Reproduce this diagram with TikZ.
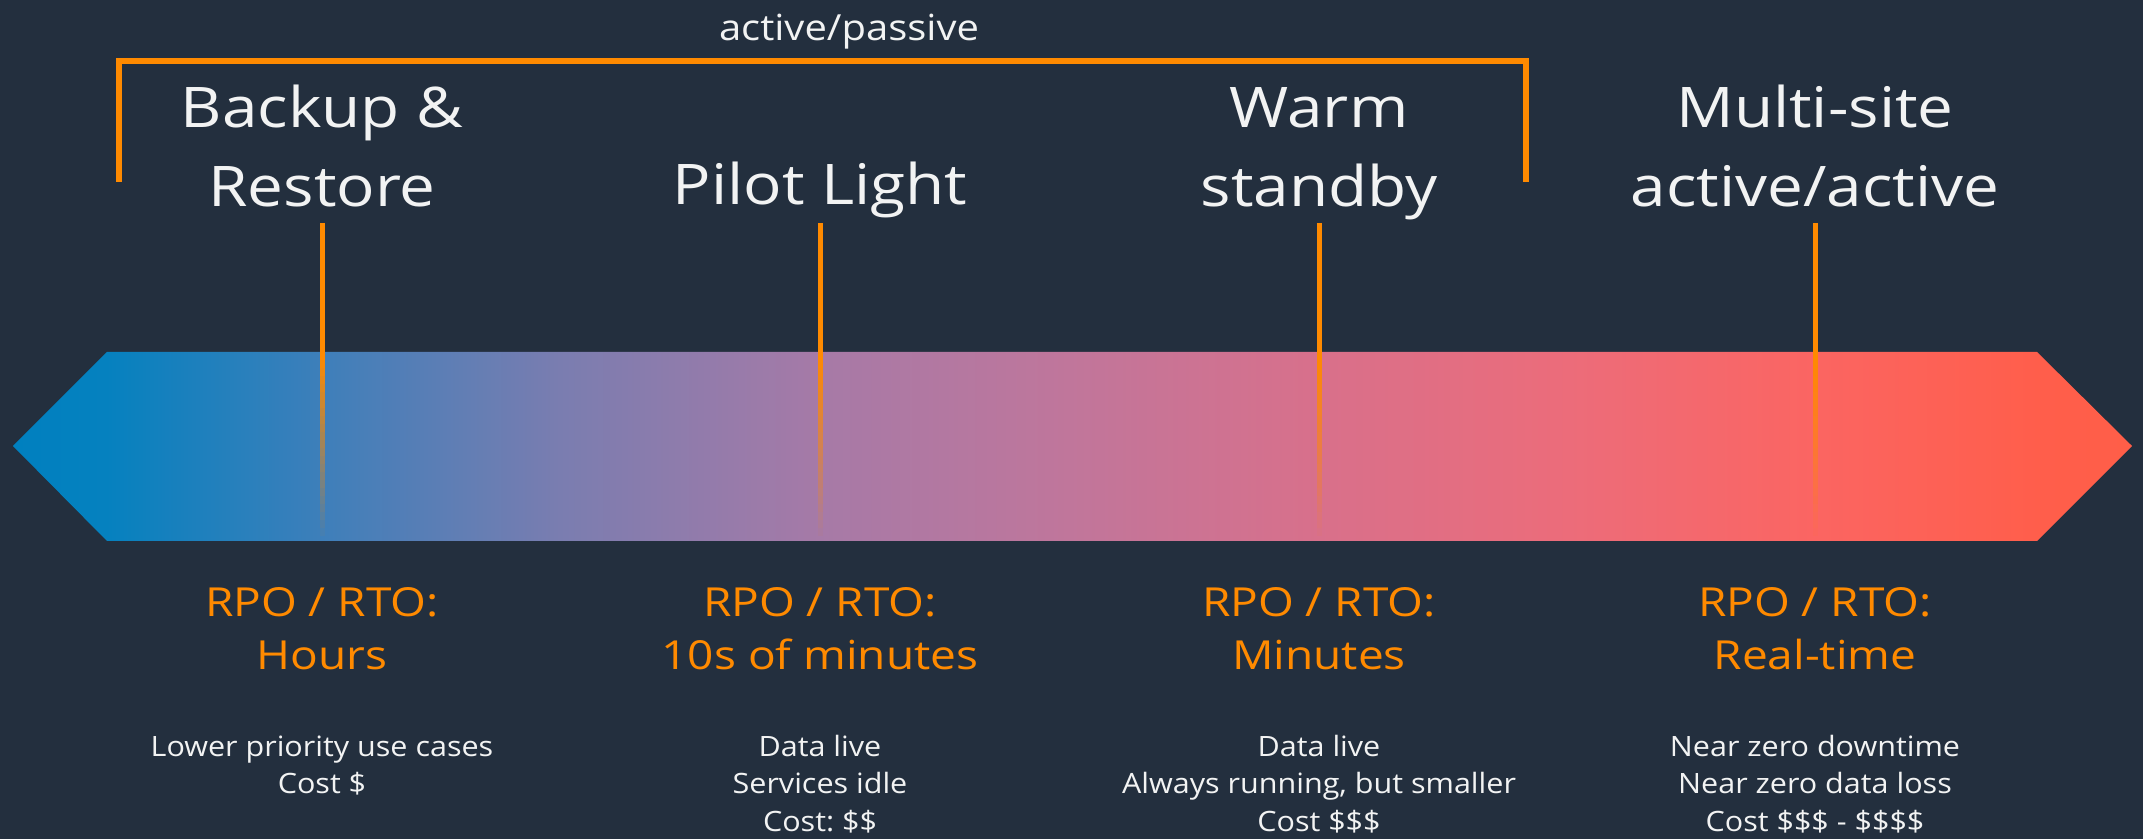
\documentclass[tikz,border=0pt]{standalone}
\usepackage{fontspec}
\setmainfont{Open Sans}
\newfontfamily\headfont[FakeStretch=1.14]{Open Sans}
\newfontfamily\timefont[FakeStretch=1.15]{Open Sans}
\newfontfamily\notefont[FakeStretch=1.09]{Open Sans}
\newfontfamily\capfont[FakeStretch=1.11]{Open Sans}
\frenchspacing

\definecolor{bg}{HTML}{232F3E}
\definecolor{ink}{HTML}{F2F3F3}
\definecolor{amber}{HTML}{FF8A00}
\definecolor{c0}{HTML}{0080BF}
\definecolor{c1}{HTML}{0581BF}
\definecolor{c2}{HTML}{3E7FBA}
\definecolor{c3}{HTML}{7A7DB0}
\definecolor{c4}{HTML}{A67AA7}
\definecolor{c5}{HTML}{C0769B}
\definecolor{c6}{HTML}{D8708B}
\definecolor{c7}{HTML}{EC6C7A}
\definecolor{c8}{HTML}{FB6562}
\definecolor{c9}{HTML}{FF5E4B}
\definecolor{c10}{HTML}{FF5E48}

% blue-to-red spectrum along the band (path spans 25bp..75bp)
\pgfdeclarehorizontalshading{bandshade}{100bp}{%
  color(0bp)=(c0); color(25bp)=(c0); color(27.2bp)=(c1); color(32.3bp)=(c2);
  color(37.9bp)=(c3); color(44bp)=(c4); color(49.9bp)=(c5); color(55.8bp)=(c6);
  color(61.7bp)=(c7); color(67.5bp)=(c8); color(72.8bp)=(c9); color(75bp)=(c10);
  color(100bp)=(c10)}

\tikzset{
  title/.style={inner sep=0pt, text=ink, align=center, anchor=base,
    font=\headfont\fontsize{28}{39.5}\selectfont},
  timing/.style={inner sep=0pt, text=amber, align=center, anchor=base,
    font=\timefont\fontsize{20}{26.5}\selectfont},
  notes/.style={inner sep=0pt, text=ink, align=center, anchor=base,
    font=\notefont\fontsize{14}{18.75}\selectfont},
  bracketline/.style={draw=amber, line width=3.25pt},
  tickline/.style={draw=amber, line width=2.5pt},
}

\begin{document}
\begin{tikzpicture}[x=0.5pt, y=-0.5pt]
\fill[bg] (0,0) rectangle (2143,839);
\useasboundingbox (0,0) rectangle (2143,839);

% the spectrum band
\path[shading=bandshade]
  (13,446) -- (107,352) -- (2037,352) -- (2132,446) -- (2037,541) -- (107,541) -- cycle;

% active/passive bracket
\node[inner sep=0pt, text=ink, anchor=base, font=\capfont\fontsize{18}{22}\selectfont]
  (ap) at (849,41) {active/passive};
\coordinate (brL) at (119,182);
\coordinate (brR) at (1526,182);
\draw[bracketline] (brL) -- (119,61) -- (1526,61) -- (brR);

% strategy titles (anchored at the baseline of the last line)
\node[title] (t1) at (322,207) {Backup \&\\Restore};
\node[title] (t2) at (820,205) {Pilot Light};
\node[title] (t3) at (1319,207) {Warm\\standby};
\node[title] (t4) at (1815,207) {Multi-site\\active/active};

% recovery objectives
\node[timing] (r1) at (322,669) {RPO / RTO:\\Hours};
\node[timing] (r2) at (820,669) {RPO / RTO:\\10s of minutes};
\node[timing] (r3) at (1319,669) {RPO / RTO:\\Minutes};
\node[timing] (r4) at (1815,669) {RPO / RTO:\\Real-time};

% notes
\node[notes] (d1) at (322,793.5) {Lower priority use cases\\Cost \$};
\node[notes] (d2) at (820,831) {Data live\\Services idle\\Cost: \$\$};
\node[notes] (d3) at (1319,831) {Data live\\Always running, but smaller\\Cost \$\$\$};
\node[notes] (d4) at (1815,831) {Near zero downtime\\Near zero data loss\\Cost \$\$\$ - \$\$\$\$};

% markers: solid above the band, fading out inside it
\foreach \n/\xx in {1/322,2/820,3/1319,4/1815}{
  \coordinate (k\n) at (\xx,223);
  \coordinate (m\n) at (\xx,352);
  \draw[tickline] (k\n) -- (m\n);
  \foreach \i in {0,...,22}{
    \pgfmathsetmacro\op{1-\i/23}
    \draw[tickline, draw opacity=\op] ([yshift=-\i*4pt]m\n) -- ([yshift=-\i*4pt-4pt]m\n);
  }
}
\end{tikzpicture}
\end{document}
